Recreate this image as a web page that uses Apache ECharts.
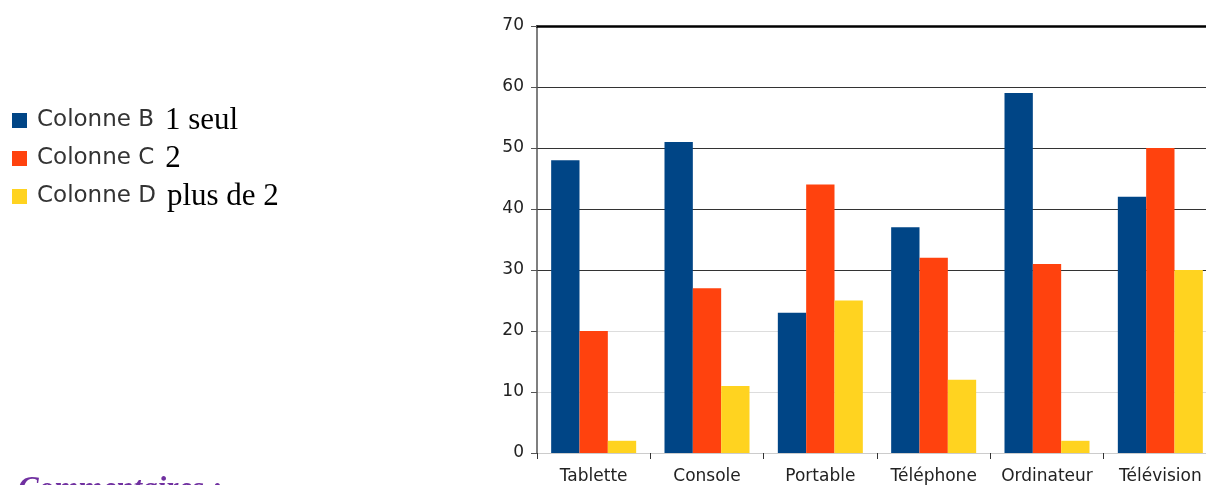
<!DOCTYPE html>
<html><head><meta charset="utf-8">
<script src="https://cdn.jsdelivr.net/npm/echarts@6/dist/echarts.min.js"></script>
<style>html,body{margin:0;padding:0;background:#fff}#c{width:1206px;height:485px}</style>
</head><body><div id="c"></div>
<script>
const categories = ['Tablette','Console','Portable','Téléphone','Ordinateur','Télévision'];
const seriesNames = ['Colonne B','Colonne C','Colonne D'];
const seriesExtra = ['1 seul','2','plus de 2'];
const colonneB = [48,51,23,37,59,42];
const colonneC = [20,27,44,32,31,50];
const colonneD = [2,11,25,12,2,30];
const colors = ['#004586','#ff420e','#ffd320'];

const chart = echarts.init(document.getElementById('c'));
const dataSets = [colonneB, colonneC, colonneD];
chart.setOption({
  animation:false,
  grid:{left:537, top:26, right:-11, bottom:32, containLabel:false, outerBoundsMode:'none'},
  legend:{
    orient:'vertical', left:7, top:100, itemWidth:15, itemHeight:15, itemGap:7, icon:'rect',
    data:seriesNames,
    formatter:function(n){return '{a|'+n+'}{b|'+seriesExtra[seriesNames.indexOf(n)]+'}';},
    textStyle:{rich:{
      a:{fontFamily:'DejaVu Sans', fontSize:23, color:'#333', padding:[0,0,0,5], lineHeight:30},
      b:{fontFamily:'Liberation Serif', fontSize:31, color:'#000', lineHeight:30, padding:[0,0,0,11]}
    }}
  },
  xAxis:[{
    type:'category', data:categories,
    axisLine:{lineStyle:{color:'#ccc',width:1}},
    axisTick:{show:true, interval:0, length:6, lineStyle:{color:'#333'}},
    axisLabel:{interval:0, hideOverlap:false, fontFamily:'DejaVu Sans', fontSize:17, color:'#222', margin:15}
  },{
    type:'category', position:'top', data:categories,
    axisLine:{lineStyle:{color:'#000',width:2.5}},
    axisTick:{show:false}, axisLabel:{show:false}
  }],
  yAxis:{
    type:'value', min:0, max:70, interval:10,
    axisLine:{show:true, lineStyle:{color:'#555',width:1.5}},
    axisTick:{show:true, length:6, lineStyle:{color:'#555'}},
    axisLabel:{fontFamily:'DejaVu Sans', fontSize:17, color:'#222', margin:13},
    splitLine:{show:true, lineStyle:{color:['#ccc','#ddd','#ddd','#333','#333','#333','#333','#000'], width:1}}
  },
  series: seriesNames.map((n,i)=>({
    name:n, type:'bar', data:dataSets[i], xAxisIndex:0,
    barGap:'0%', barCategoryGap:'25%',
    itemStyle:{color:colors[i]}
  })),
  graphic:[{
    type:'text', left:18, top:474,
    style:{text:'Commentaires :', fontFamily:'Liberation Serif', fontStyle:'italic', fontWeight:'bold', fontSize:31, fill:'#7030a0'}
  }]
});
</script></body></html>
